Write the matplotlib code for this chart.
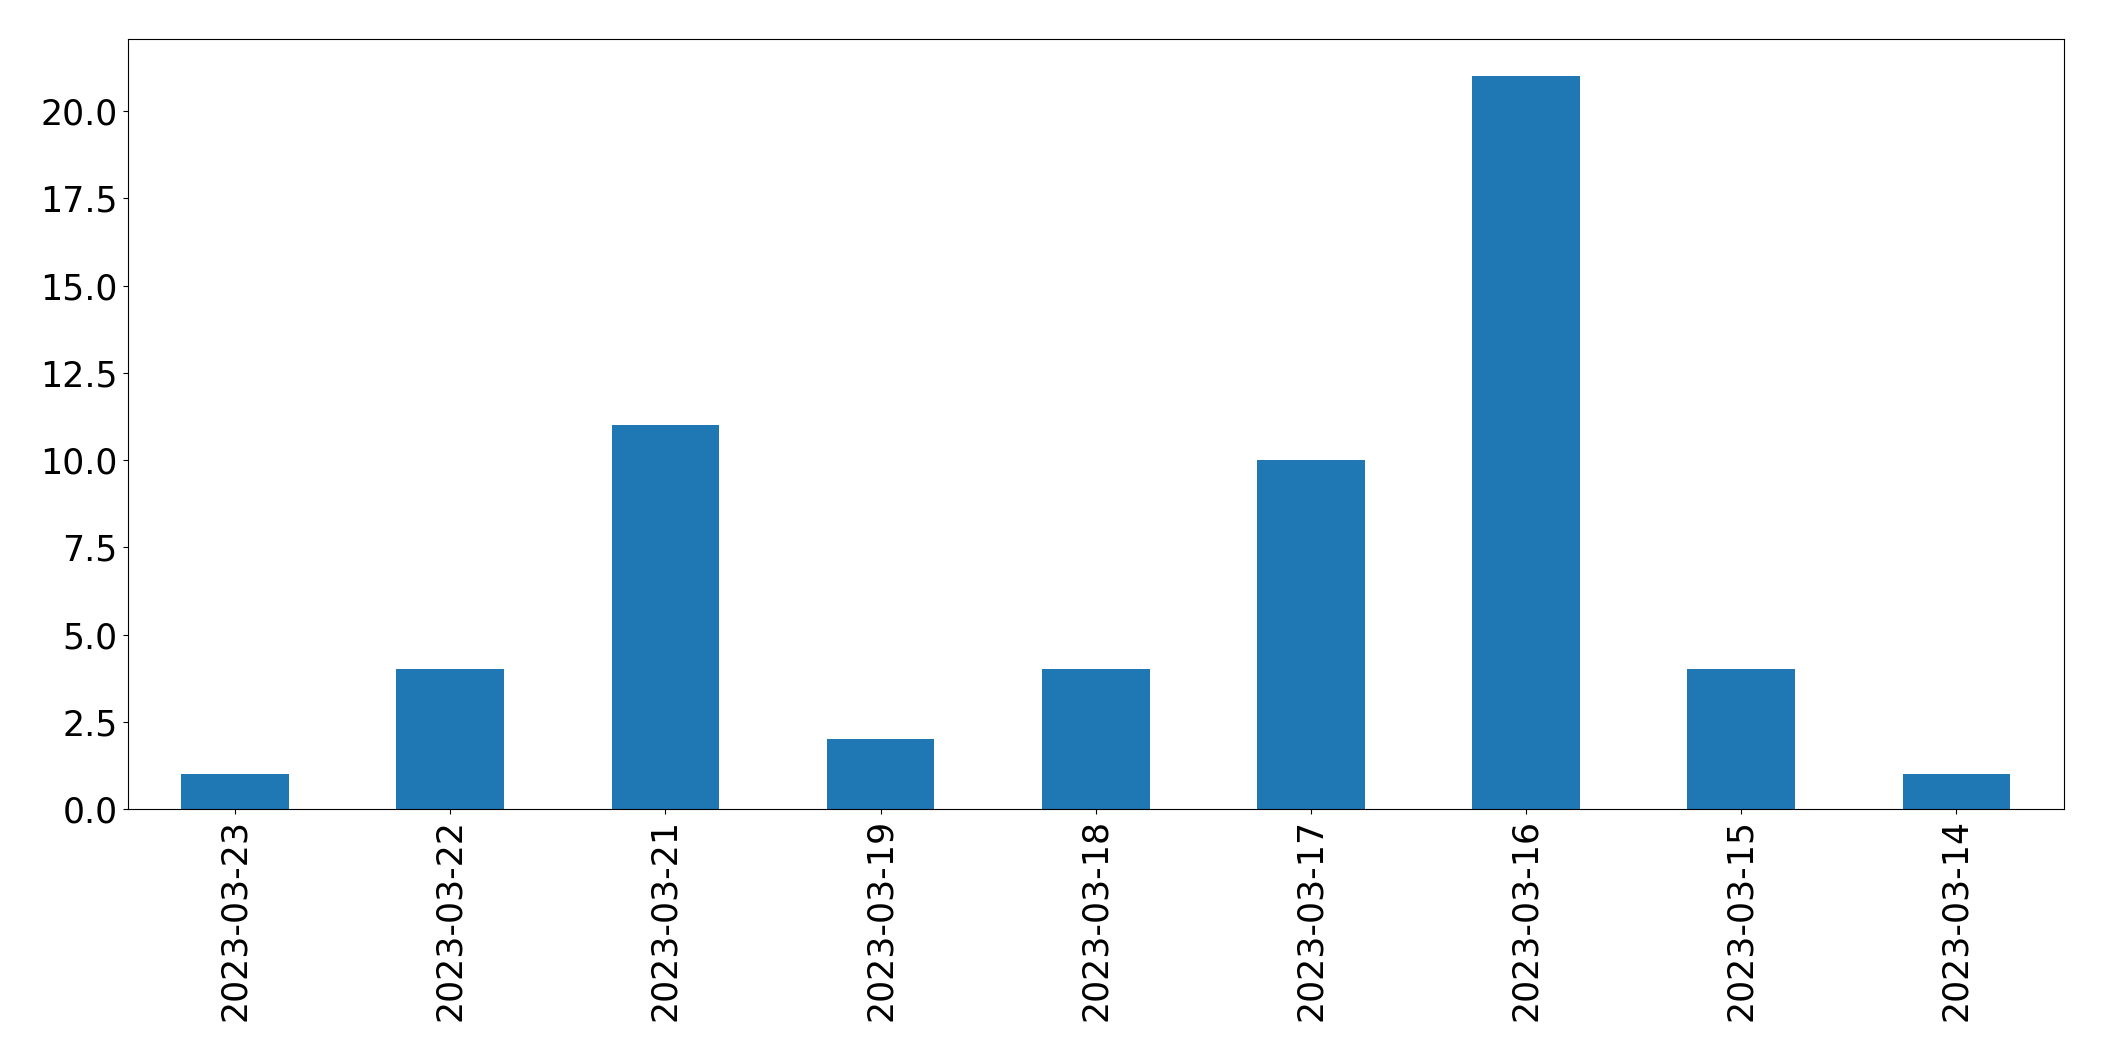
import matplotlib
matplotlib.use("Agg")
import matplotlib.pyplot as plt
import numpy as np

# data
dates = ["2023-03-23", "2023-03-22", "2023-03-21", "2023-03-19", "2023-03-18",
         "2023-03-17", "2023-03-16", "2023-03-15", "2023-03-14"]
counts = [1, 4, 11, 2, 4, 10, 21, 4, 1]

fig, ax = plt.subplots(figsize=(21.04, 10.61), dpi=100)
fig.subplots_adjust(left=0.0606, right=0.981, top=0.9628, bottom=0.2375)

x = np.arange(len(dates))
ax.bar(x, counts, width=0.5, color="#1f77b4")
ax.set_xlim(-0.5, len(dates) - 0.5)
ax.set_xticks(x)
ax.set_xticklabels(dates, rotation=90)
ax.tick_params(labelsize=25)

fig.savefig("out.png", dpi=100)
